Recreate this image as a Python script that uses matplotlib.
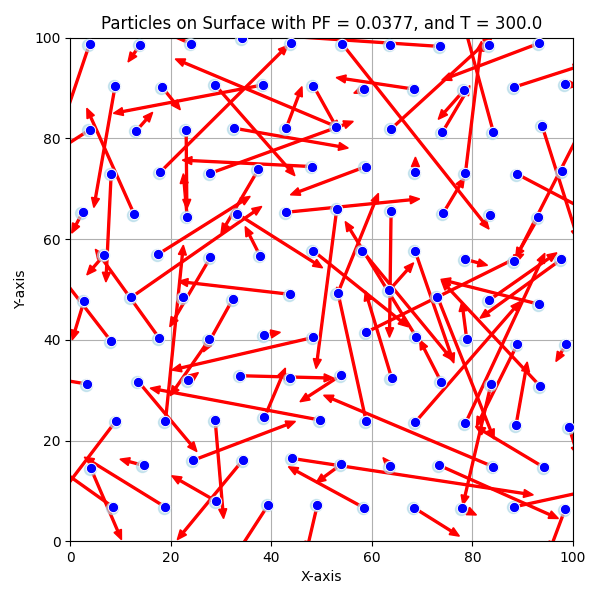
import numpy as np
import matplotlib
matplotlib.use('Agg')
import matplotlib.pyplot as plt

nan = np.nan

# particle positions (row by row, top to bottom)
px = [3.84, 13.9, 24.05, 34.26, 43.94, 54.14, 63.69, 73.56, 83.37, 93.31,
      8.94, 18.29, 28.8, 38.44, 48.38, 58.45, 68.39, 78.4, 88.27, 98.41,
      3.84, 13.12, 23.06, 32.6, 42.94, 52.88, 63.82, 74.03, 84.17, 93.84,
      8.15, 17.89, 27.9, 37.44, 48.11, 58.78, 68.66, 78.6, 88.94, 97.88,
      2.45, 12.72, 23.26, 33.27, 42.94, 53.02, 63.82, 74.16, 83.5, 93.11,
      6.76, 17.56, 27.9, 37.77, 48.38, 58.12, 68.59, 78.6, 88.27, 97.68,
      2.78, 12.13, 22.53, 32.34, 43.74, 53.21, 63.49, 73.03, 83.37, 93.31,
      8.15, 17.69, 27.7, 38.64, 48.38, 58.85, 68.79, 78.86, 88.94, 98.61,
      3.31, 13.58, 23.5, 33.8, 43.74, 53.88, 63.95, 73.76, 83.7, 93.44,
      9.08, 18.95, 28.83, 38.64, 49.7, 58.85, 68.59, 78.6, 88.67, 99.21,
      4.11, 14.58, 24.52, 34.33, 44.14, 53.88, 63.62, 73.43, 84.17, 94.24,
      8.61, 18.95, 29.0, 39.43, 49.17, 58.45, 68.39, 78.0, 88.34, 98.41]
py = [98.74, 98.6, 98.8, 99.93, 98.94, 98.74, 98.6, 98.28, 98.48, 98.94,
      90.46, 90.19, 90.66, 90.66, 90.46, 89.8, 89.8, 89.66, 90.19, 90.79,
      81.7, 81.5, 81.7, 82.04, 82.04, 82.37, 81.9, 81.25, 81.25, 82.57,
      72.96, 73.3, 73.1, 73.89, 74.42, 74.42, 73.29, 73.09, 72.9, 73.49,
      65.34, 64.94, 64.41, 65.0, 65.34, 66.0, 65.6, 65.14, 64.81, 64.34,
      56.86, 57.05, 56.4, 56.66, 57.65, 57.65, 57.65, 55.99, 55.6, 55.99,
      47.78, 48.44, 48.44, 48.1, 49.04, 49.24, 49.9, 48.57, 47.91, 47.05,
      39.69, 40.35, 40.1, 40.95, 40.49, 41.48, 40.62, 40.16, 39.16, 39.1,
      31.22, 31.68, 32.0, 32.87, 32.34, 33.0, 32.34, 31.68, 31.22, 30.82,
      23.86, 23.86, 24.06, 24.59, 24.06, 23.86, 23.6, 23.4, 23.07, 22.6,
      14.45, 15.05, 16.1, 16.1, 16.44, 15.25, 14.91, 15.05, 14.78, 14.65,
      6.7, 6.76, 7.96, 7.29, 7.29, 6.63, 6.63, 6.5, 6.83, 6.3]

# arrow tips for each particle (nan = no visible arrow)
tip_x = [-2.5, 11.5, 18.0, nan, nan, 83.3, nan, 36.0, nan, 73.9,
         4.7, 21.9, 44.7, 8.6, 53.3, 56.4, 52.9, 73.2, 102.0, 101.0,
         -3.0, 16.4, 23.2, 55.3, 46.1, 20.9, 84.0, 79.5, 78.5, 101.0,
         7.1, 43.3, 56.3, 30.0, 22.3, 43.8, 68.66, 81.8, 104.0, nan,
         0.3, 3.3, 22.5, 50.2, 69.5, 48.9, 63.5, 78.4, nan, 88.6,
         3.3, 35.8, 19.8, 34.8, 67.2, 76.0, 76.3, 83.0, 102.0, 81.5,
         0.4, 38.1, nan, 26.5, 21.5, 61.3, 68.3, 84.3, 96.8, 73.7,
         -2.0, 5.0, 19.9, 41.8, 20.2, 90.2, 54.7, 77.9, 80.8, 96.6,
         -2.5, 25.2, 25.5, 52.4, 41.6, 45.7, 58.7, 69.5, 78.1, 73.8,
         -2.0, 22.5, 30.5, 42.8, 15.9, 53.0, 89.5, 94.4, 90.9, 101.0,
         10.2, 9.9, 44.8, 21.3, 92.1, 48.9, 62.2, 97.1, 50.4, 80.6,
         -2.5, 2.8, 20.2, 33.1, 47.0, 43.4, 77.4, 80.8, 103.0, 95.3]
tip_y = [80.0, 95.2, 101.5, nan, nan, 62.0, nan, 100.8, nan, 91.6,
         66.3, 85.7, 72.6, 85.0, 81.6, 89.0, 92.1, 83.8, 94.6, 90.5,
         77.3, 85.2, 66.0, 78.1, 90.3, 95.8, 100.3, 90.5, 102.0, 60.0,
         51.5, 98.5, 83.4, 61.2, 75.7, 68.8, 76.3, 99.3, 65.0, nan,
         61.2, 86.0, 73.0, 54.3, 68.0, 34.3, 40.5, 72.2, nan, 56.4,
         52.9, 68.5, 42.6, 62.5, 42.6, 36.0, 35.4, 54.8, 82.5, 44.3,
         40.0, 66.5, nan, 37.6, 51.6, 69.1, 55.3, 20.3, 57.3, 52.0,
         52.8, 58.0, 28.9, 41.5, 34.0, 57.0, 63.5, 47.6, 22.8, 35.7,
         32.2, 17.8, 33.5, 32.4, 33.0, 27.7, 49.7, 40.0, 7.2, 51.8,
         9.3, 58.8, 4.5, 34.4, 30.4, 50.5, 47.6, 57.2, 35.6, 17.0,
         0.3, 16.3, 23.8, 0.3, 9.2, 11.6, 16.6, 4.5, 29.0, 22.8,
         14.6, 16.7, 13.0, -2.5, -2.0, 14.8, 1.0, 5.2, 10.0, -2.0]

px = np.array(px); py = np.array(py)
tip_x = np.array(tip_x); tip_y = np.array(tip_y)

fig, ax = plt.subplots(figsize=(6, 6), dpi=100)
fig.subplots_adjust(left=0.117, right=0.955, bottom=0.098, top=0.937)

for x0, y0, x1, y1 in zip(px, py, tip_x, tip_y):
    if np.isnan(x1):
        continue
    ax.arrow(x0, y0, x1 - x0, y1 - y0, width=0.38, head_width=1.6,
             head_length=1.9, length_includes_head=True, color='red', zorder=2)

# faint halo then the particle itself
ax.scatter(px - 0.25, py - 0.1, s=75, color='lightblue', alpha=0.6, zorder=3)
ax.scatter(px, py, s=55, color='blue', edgecolors='white', linewidths=0.7, zorder=4)

ax.set_xlim(0, 100)
ax.set_ylim(0, 100)
ax.grid(True)
ax.set_title('Particles on Surface with PF = 0.0377, and T = 300.0')
ax.set_xlabel('X-axis')
ax.set_ylabel('Y-axis')
fig.savefig('out.png')
